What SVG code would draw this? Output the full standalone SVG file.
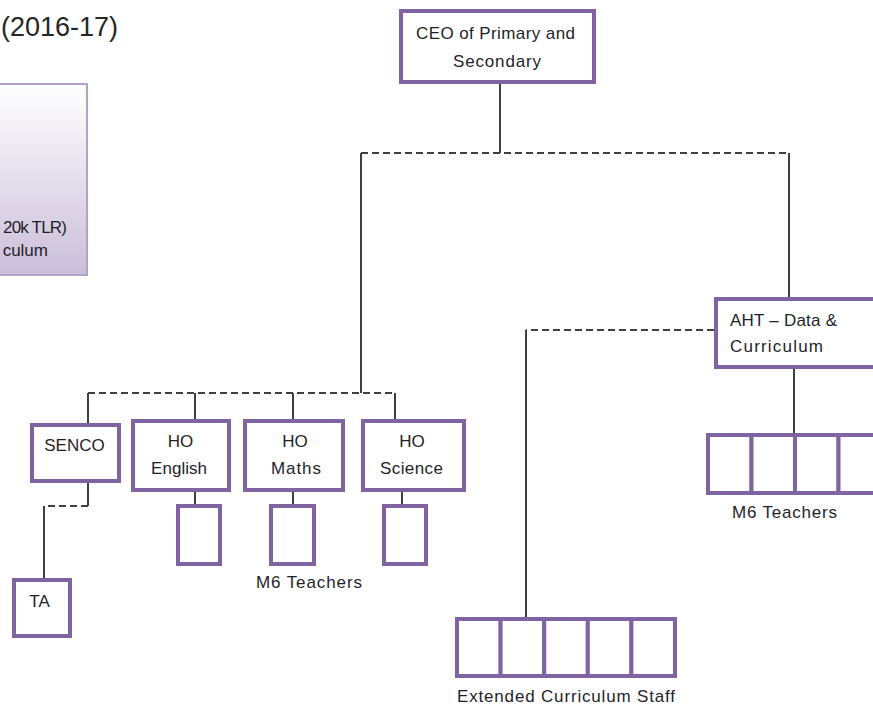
<svg xmlns="http://www.w3.org/2000/svg" width="873" height="707" viewBox="0 0 873 707">
  <defs>
    <linearGradient id="lavender" x1="0" y1="0" x2="0" y2="1">
      <stop offset="0" stop-color="#ffffff"/>
      <stop offset="1" stop-color="#cabed9"/>
    </linearGradient>
    <style>
      .box { fill: #ffffff; stroke: #8064a2; stroke-width: 4; }
      .soft { fill: url(#lavender); stroke: #b3a2c7; stroke-width: 2; }
      .lbl { font-family: "Liberation Sans", Arial, sans-serif; font-size: 17px; fill: #1f1f2a; }
      .mid { text-anchor: middle; }
      .solid { stroke: #3f3f3f; stroke-width: 2; fill: none; }
      .dash { stroke: #3f3f3f; stroke-width: 2; fill: none; stroke-dasharray: 7 4; }
    </style>
  </defs>

  <rect width="873" height="707" fill="#ffffff"/>

  <!-- title fragment -->
  <text x="1" y="36" font-family="'Liberation Sans', Arial, sans-serif" font-size="27" fill="#262626" textLength="117">(2016-17)</text>

  <!-- connectors -->
  <g id="connectors">
    <line class="solid" x1="500" y1="84" x2="500" y2="153"/>
    <line class="dash" x1="361" y1="153" x2="789" y2="153"/>
    <line class="solid" x1="789" y1="153" x2="789" y2="297"/>
    <line class="solid" x1="361" y1="153" x2="361" y2="393"/>
    <line class="dash" x1="88" y1="393" x2="395" y2="393"/>
    <line class="solid" x1="88" y1="393" x2="88" y2="423"/>
    <line class="solid" x1="195" y1="393" x2="195" y2="419"/>
    <line class="solid" x1="293" y1="393" x2="293" y2="419"/>
    <line class="solid" x1="395" y1="393" x2="395" y2="419"/>
    <line class="solid" x1="195" y1="492" x2="195" y2="504"/>
    <line class="solid" x1="293" y1="492" x2="293" y2="504"/>
    <line class="solid" x1="402" y1="492" x2="402" y2="504"/>
    <line class="solid" x1="88" y1="483" x2="88" y2="506"/>
    <line class="dash" x1="88" y1="506" x2="44" y2="506"/>
    <line class="solid" x1="44" y1="506" x2="44" y2="578"/>
    <line class="dash" x1="714" y1="330" x2="526" y2="330"/>
    <line class="solid" x1="526" y1="330" x2="526" y2="617"/>
    <line class="solid" x1="794" y1="369" x2="794" y2="433"/>
  </g>

  <!-- shaded panel on the left -->
  <g id="panel">
    <rect class="soft" x="-5" y="84" width="92" height="191"/>
    <text class="lbl" x="67" y="233" text-anchor="end" textLength="64">20k TLR)</text>
    <text class="lbl" x="48" y="256" text-anchor="end">culum</text>
  </g>

  <g id="ceo">
    <rect class="box" x="401" y="11" width="193" height="71"/>
    <text class="lbl mid" x="495.5" y="39" textLength="159">CEO of Primary and</text>
    <text class="lbl mid" x="497" y="67" textLength="88">Secondary</text>
  </g>

  <g id="senco">
    <rect class="box" x="32" y="425" width="87" height="56"/>
    <text class="lbl mid" x="74.5" y="451" font-size="16">SENCO</text>
  </g>

  <g id="ho-english">
    <rect class="box" x="133" y="421" width="96" height="69"/>
    <text class="lbl mid" x="180.5" y="447">HO</text>
    <text class="lbl mid" x="179" y="474" textLength="56">English</text>
  </g>

  <g id="ho-maths">
    <rect class="box" x="245" y="421" width="98" height="69"/>
    <text class="lbl mid" x="295" y="447">HO</text>
    <text class="lbl mid" x="296" y="474" textLength="50">Maths</text>
  </g>

  <g id="ho-science">
    <rect class="box" x="363" y="421" width="101" height="69"/>
    <text class="lbl mid" x="412" y="447">HO</text>
    <text class="lbl mid" x="411.5" y="474" textLength="63">Science</text>
  </g>

  <g id="english-teacher">
    <rect class="box" x="178" y="506" width="42" height="58"/>
  </g>
  <g id="maths-teacher">
    <rect class="box" x="271" y="506" width="43" height="58"/>
  </g>
  <g id="science-teacher">
    <rect class="box" x="384" y="506" width="42" height="58"/>
  </g>
  <text class="lbl mid" x="309" y="588" textLength="106">M6 Teachers</text>

  <g id="ta">
    <rect class="box" x="14" y="580" width="56" height="56"/>
    <text class="lbl mid" x="39.5" y="607">TA</text>
  </g>

  <g id="aht">
    <rect class="box" x="716" y="299" width="170" height="68"/>
    <text class="lbl" x="730" y="326" textLength="107">AHT – Data &amp;</text>
    <text class="lbl" x="730" y="352" textLength="93">Curriculum</text>
  </g>

  <g id="aht-teachers">
    <rect class="box" x="708" y="435" width="43.5" height="58"/>
    <rect class="box" x="751.5" y="435" width="43.5" height="58"/>
    <rect class="box" x="795" y="435" width="43.5" height="58"/>
    <rect class="box" x="838.5" y="435" width="43.5" height="58"/>
    <text class="lbl mid" x="784.5" y="518" textLength="105">M6 Teachers</text>
  </g>

  <g id="extended-staff">
    <rect class="box" x="457" y="619" width="43.6" height="57"/>
    <rect class="box" x="500.6" y="619" width="43.6" height="57"/>
    <rect class="box" x="544.2" y="619" width="43.6" height="57"/>
    <rect class="box" x="587.8" y="619" width="43.6" height="57"/>
    <rect class="box" x="631.4" y="619" width="43.6" height="57"/>
    <text class="lbl mid" x="566" y="702" textLength="218">Extended Curriculum Staff</text>
  </g>
</svg>
